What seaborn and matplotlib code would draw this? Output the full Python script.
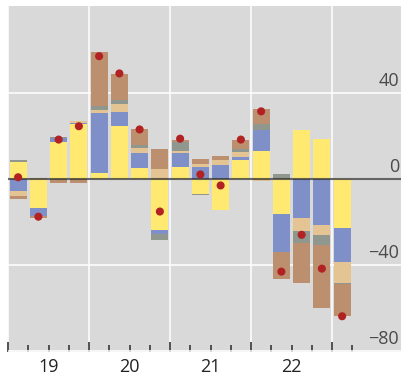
import numpy as np
import pandas as pd
import matplotlib
matplotlib.use("Agg")
import matplotlib.pyplot as plt
import matplotlib.transforms as mtransforms
import seaborn as sns

# quarterly contributions, 2019Q1 .. 2023Q1
quarters = ["19Q1", "19Q2", "19Q3", "19Q4", "20Q1", "20Q2", "20Q3", "20Q4",
            "21Q1", "21Q2", "21Q3", "21Q4", "22Q1", "22Q2", "22Q3", "22Q4", "23Q1"]
yellow = [8.1, -13.5, 17.4, 25.6, 2.6, 24.4, 4.9, -23.9, 5.4, -7.1, -14.5, 8.6, 13.0, -16.2, 22.7, 18.5, -22.7]
blue = [-5.8, -3.8, 1.7, 0.3, 27.9, 6.9, 7.4, -1.4, 6.5, 5.4, 6.3, 1.8, 9.7, -17.6, -18.0, -21.3, -15.7]
tan = [-2.2, 0.6, 0.0, 0.8, 1.3, 3.3, 2.3, 4.6, 0.9, 1.4, 2.3, 2.3, -0.8, 0.0, -6.1, -4.6, -9.7]
grey = [0.5, 0.0, 0.5, 0.0, 2.0, 2.1, 1.4, -3.2, 4.5, -0.4, 0.0, 1.4, 2.9, 2.3, -5.5, -4.6, -0.5]
brown = [-1.5, -0.9, -1.9, -1.9, 25.0, 12.1, 7.4, 9.1, 0.6, 2.3, 2.3, 4.2, 6.8, -12.5, -18.5, -29.6, -14.8]
total = [0.8, -17.5, 18.3, 24.5, 57.0, 49.0, 23.0, -15.1, 18.7, 2.1, -3.0, 18.3, 31.4, -43.0, -25.9, -41.6, -63.7]

years = ["19", "20", "21", "22"]
yticks = [40, 0, -40, -80]
ylabels = ["40", "0", "\u221240", "\u221280"]

series = {"yellow": yellow, "blue": blue, "tan": tan, "grey": grey, "brown": brown}
colors = {"yellow": "#FFE970", "blue": "#7F8FC7", "tan": "#E5C493",
          "grey": "#8F978F", "brown": "#BC8F6E"}

sns.set_style("darkgrid", {"axes.facecolor": "#D9D9D9", "grid.color": "white"})
plt.rcParams["font.family"] = ["Open Sans", "DejaVu Sans"]

fig = plt.figure(figsize=(4.01, 3.81), dpi=100)
ax = fig.add_axes([8 / 401, 29 / 381, 393 / 401, 346 / 381])

x = np.arange(len(quarters)) + 0.5
pos_base = np.zeros(len(quarters))
neg_base = np.zeros(len(quarters))
for name, vals in series.items():
    v = np.array(vals)
    p = np.where(v > 0, v, 0)
    n = np.where(v < 0, v, 0)
    ax.bar(x, p, bottom=pos_base, width=0.84, color=colors[name], linewidth=0, zorder=2)
    ax.bar(x, n, bottom=neg_base, width=0.84, color=colors[name], linewidth=0, zorder=2)
    pos_base += p
    neg_base += n

ax.axhline(0, color="#333333", lw=1.5, alpha=0.75, zorder=3)

df = pd.DataFrame({"x": x, "total": total})
sns.scatterplot(data=df, x="x", y="total", ax=ax, color="#B22222", s=34,
                edgecolor="none", zorder=4, legend=False)

ax.set_xlim(0, 393 / 20.25)
ax.set_ylim(-80.3, 80.3)
ax.set_xlabel("")
ax.set_ylabel("")
for s in ax.spines.values():
    s.set_visible(False)

# x ticks: years major, quarters minor
ax.set_xticks([0, 4, 8, 12, 16])
ax.set_xticks([i for i in range(1, 18) if i % 4 != 0], minor=True)
ax.tick_params(axis="x", which="both", direction="in", colors="#444444",
               labelbottom=False, bottom=True, width=1.3)
ax.tick_params(axis="x", which="major", length=7.5)
ax.tick_params(axis="x", which="minor", length=5)
ax.grid(True, which="major", color="white", lw=1.1, zorder=0)
ax.grid(False, which="minor")
ax.set_axisbelow(True)

sec = ax.secondary_xaxis("bottom")
sec.set_xticks([2, 6, 10, 14], labels=years)
sec.tick_params(length=0, pad=4.5, labelsize=13, labelcolor="#222222")
for s in sec.spines.values():
    s.set_visible(False)

# y labels on the right, sitting above their grid lines
ax.set_yticks(yticks, labels=ylabels)
ax.yaxis.tick_right()
ax.tick_params(axis="y", length=0, pad=-1.5, labelsize=13, labelcolor="#4a4a4a",
               labelright=True, labelleft=False)
offset = mtransforms.ScaledTranslation(0, 5 / 72, fig.dpi_scale_trans)
for t in ax.yaxis.get_major_ticks():
    t.label2.set_horizontalalignment("right")
    t.label2.set_verticalalignment("baseline")
    t.label2.set_transform(t.label2.get_transform() + offset)

fig.savefig("out.png", dpi=100)
